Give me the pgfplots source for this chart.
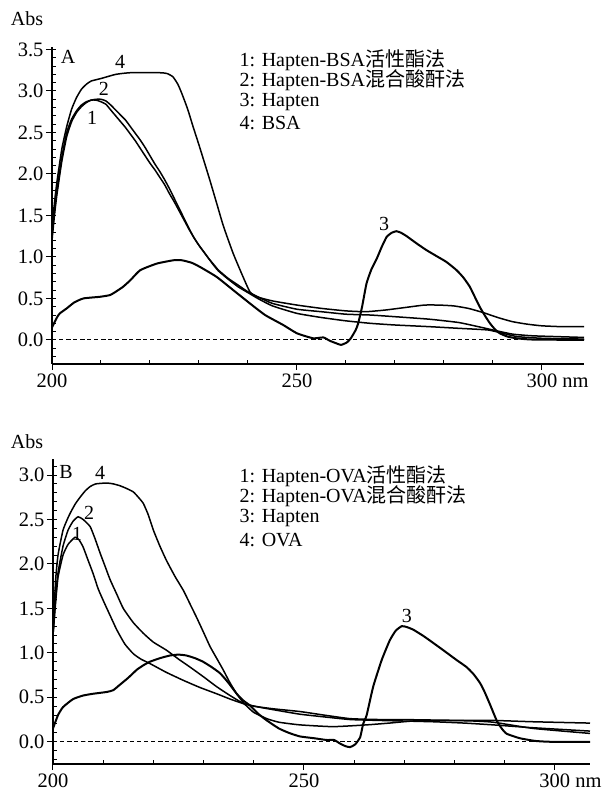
\documentclass[border=0pt]{standalone}
\usepackage{fontspec}
\setmainfont{Liberation Serif}
\newfontfamily\cjk{Noto Sans CJK SC}
\usepackage{pgfplots}
\pgfplotsset{compat=1.18}

\pgfplotsset{
  spec/.style={
    scale only axis,
    axis x line=bottom, axis y line=left,
    axis line style={-, line width=1.6pt},
    xmin=200,
    xtick={200,250,300},
    xticklabels={200,250,300\rlap{\ nm}},
    minor xtick={210,220,230,240,260,270,280,290},
    ytick={0,0.5,...,3.5},
    minor ytick={-0.2,-0.1,...,3.5},
    yticklabel style={xshift=-5pt, /pgf/number format/.cd,fixed,fixed zerofill,precision=1},
    xticklabel style={yshift=-6pt},
    /pgf/number format/assume math mode=true,
    tick align=inside,
    major tick length=6pt, minor tick length=4pt,
    every major x tick/.append style={yshift=-6pt},
    every major y tick/.append style={xshift=-6pt},
    tick style={black, line width=1pt},
    ticklabel style={font=\fontsize{20.5}{22}\selectfont},
    cycle list={{black}},
    every axis plot/.append style={line width=1.5pt, no marks, smooth, tension=0.3},
    every axis plot post/.append style={black},
    clip=false,
  },
}

\begin{document}
\begin{tikzpicture}
\useasboundingbox (0,0) rectangle (603pt,796pt);
\tikzset{lab/.style={font=\fontsize{20}{22}\selectfont}}

% ---------- panel A ----------
\begin{axis}[spec, at={(52pt,432pt)}, anchor=south west,
  width=532pt, height=317pt, xmax=308.6, ymin=-0.29, ymax=3.53]
\addplot[dashed, line width=0.9pt, dash pattern=on 4pt off 3pt, smooth=false] coordinates {(200,0) (308.6,0)};
% 1
\addplot coordinates {(200,1.2)(200.5,1.5)(201,1.75)(202,2.15)(203,2.45)(204,2.63)(205,2.74)(206,2.81)(207,2.86)(208,2.89)(209,2.89)(210,2.87)(211,2.84)(212,2.77)(213,2.70)(214,2.63)(215,2.56)(216,2.48)(217,2.40)(218,2.31)(219,2.22)(220,2.13)(221,2.05)(222,1.96)(223,1.87)(224,1.76)(225,1.66)(226,1.55)(227,1.44)(228,1.33)(229,1.23)(230,1.14)(231,1.06)(232,0.98)(233,0.90)(234,0.83)(236,0.73)(238,0.64)(240,0.57)(242,0.50)(245,0.41)(250,0.32)(255,0.27)(260,0.23)(265,0.20)(270,0.18)(277,0.16)(283,0.14)(289,0.12)(292,0.08)(295,0.04)(300,0.02)(308.6,0.01)};
% 2
\addplot coordinates {(200,1.25)(200.5,1.55)(201,1.8)(202,2.2)(203,2.5)(204,2.66)(205,2.76)(206,2.83)(207,2.87)(208,2.89)(209,2.90)(210,2.90)(211,2.88)(212,2.83)(213,2.77)(214,2.71)(215,2.65)(216,2.57)(217,2.49)(218,2.41)(219,2.32)(220,2.22)(221,2.12)(222,2.03)(223,1.93)(224,1.82)(225,1.70)(226,1.58)(227,1.46)(228,1.34)(229,1.23)(230,1.14)(231,1.06)(232,0.98)(233,0.91)(234,0.84)(236,0.74)(238,0.66)(240,0.58)(242,0.52)(245,0.44)(250,0.37)(255,0.34)(260,0.31)(265,0.30)(270,0.28)(277,0.25)(283,0.21)(287,0.16)(290,0.12)(294,0.07)(298,0.05)(303,0.04)(308.6,0.03)};
% 3
\addplot[line width=2pt] coordinates {(200,0.15)(201,0.27)(201.6,0.32)(203,0.38)(204.5,0.45)(206.4,0.50)(209.8,0.52)(211.8,0.54)(213,0.58)(214.5,0.64)(216,0.72)(218,0.84)(221.4,0.92)(224.8,0.96)(226.5,0.96)(228.5,0.93)(230.2,0.88)(233.6,0.76)(237,0.60)(240.4,0.44)(243.5,0.30)(247.2,0.18)(250,0.08)(253.3,0.02)(255.4,0.03)(256.7,-0.01)(258,-0.04)(259,-0.06)(260.2,-0.03)(261,0.02)(262,0.12)(262.5,0.2)(263.3,0.4)(264.2,0.68)(265.2,0.85)(266.3,0.98)(267.3,1.12)(268.3,1.24)(269.3,1.29)(270.3,1.31)(271.3,1.29)(272.4,1.25)(274.5,1.16)(276.5,1.08)(278.5,1.01)(280.5,0.94)(282.6,0.84)(284,0.75)(285.3,0.64)(286.3,0.52)(287.3,0.40)(288.4,0.29)(289.4,0.20)(290.4,0.13)(291.4,0.08)(293,0.04)(294.8,0.02)(298,0.005)(308.6,0.0)};
% 4
\addplot coordinates {(200,1.3)(200.5,1.65)(201,1.9)(202,2.3)(203,2.57)(204,2.78)(205,2.92)(206,3.02)(207,3.08)(208,3.12)(210,3.15)(213,3.2)(216,3.22)(222,3.22)(223.5,3.21)(224.7,3.17)(225.7,3.08)(226.5,2.97)(227.7,2.78)(228.8,2.57)(230,2.35)(231,2.16)(232.2,1.93)(233.6,1.65)(235,1.37)(237,1.04)(239,0.76)(240.4,0.58)(241.8,0.52)(245,0.47)(250,0.42)(255,0.38)(260,0.35)(264,0.34)(268,0.36)(272,0.39)(276,0.42)(279,0.42)(282,0.41)(285,0.38)(288,0.33)(291,0.27)(294,0.22)(297,0.19)(300,0.17)(304,0.16)(308.6,0.16)};
\node[lab] at (axis cs:203.3,3.41) {A};
\node[lab] at (axis cs:213.9,3.35) {4};
\node[lab] at (axis cs:210.6,3.02) {2};
\node[lab] at (axis cs:208.2,2.67) {1};
\node[lab] at (axis cs:267.8,1.40) {3};
\end{axis}

\node[lab] at (27pt,777pt) {Abs};
\node[lab, anchor=base west] at (236pt,729pt) {1: Hapten-BSA{\cjk 活性酯法}};
\node[lab, anchor=base west] at (236pt,709pt) {2: Hapten-BSA{\cjk 混合酸酐法}};
\node[lab, anchor=base west] at (236pt,689pt) {3: Hapten};
\node[lab, anchor=base west] at (236pt,666pt) {4: BSA};

% ---------- panel B ----------
\begin{axis}[spec, at={(53pt,32pt)}, anchor=south west,
  width=537pt, height=305pt, xmax=307, ymin=-0.25, ymax=3.18,
  ytick={0,0.5,...,3.0}, minor ytick={-0.2,-0.1,...,3.1}]
\addplot[dashed, line width=0.9pt, dash pattern=on 4pt off 3pt, smooth=false] coordinates {(200,0) (307,0)};
% 1
\addplot coordinates {(200,1.2)(200.5,1.55)(201,1.85)(202,2.1)(203,2.22)(204.4,2.30)(205.2,2.27)(206,2.19)(207,2.04)(208,1.89)(209,1.72)(210,1.59)(211.3,1.43)(212.7,1.26)(214.3,1.10)(216,0.99)(217.5,0.93)(219.3,0.88)(222.6,0.78)(226,0.69)(229.3,0.61)(232.6,0.54)(235.3,0.48)(237.9,0.43)(241,0.39)(245,0.35)(249.2,0.31)(254,0.28)(259.2,0.25)(265,0.24)(275.8,0.225)(282,0.21)(287.7,0.19)(295,0.16)(307,0.12)};
% 2
\addplot coordinates {(200,1.2)(200.5,1.6)(201,1.9)(202,2.2)(203,2.38)(204,2.48)(205,2.53)(206,2.5)(207.4,2.42)(208.4,2.28)(209.4,2.12)(210.4,1.97)(211.4,1.82)(212.7,1.66)(214,1.50)(216,1.34)(218,1.22)(220,1.12)(222.6,1.03)(225,0.93)(227.3,0.84)(230,0.73)(232.6,0.62)(235,0.53)(237.3,0.45)(238,0.43)(240,0.40)(244,0.37)(249.2,0.34)(254,0.30)(259.2,0.26)(265,0.25)(269,0.25)(275,0.245)(282,0.24)(287.7,0.24)(295.7,0.225)(307,0.21)};
% 3
\addplot[line width=2pt] coordinates {(200,0.15)(201,0.30)(202,0.39)(204,0.48)(206,0.52)(208,0.54)(210.7,0.56)(212,0.58)(213.3,0.64)(215,0.72)(216.7,0.81)(218,0.86)(219.3,0.90)(221.3,0.94)(223.3,0.97)(225,0.98)(226.6,0.97)(228.3,0.94)(229.9,0.90)(231.6,0.84)(233.3,0.77)(235,0.66)(236.6,0.54)(238,0.46)(239.2,0.41)(241,0.31)(242.6,0.24)(245,0.15)(247,0.10)(249.2,0.06)(252,0.04)(254.5,0.02)(256,0.02)(257.2,-0.02)(258.3,-0.05)(259.2,-0.06)(260.2,-0.03)(261.2,0.05)(261.8,0.2)(262.5,0.3)(263.8,0.62)(265.5,0.92)(267.1,1.14)(268.3,1.25)(269.5,1.30)(270.5,1.29)(271.8,1.26)(273.8,1.19)(275.8,1.11)(278,1.02)(280.4,0.92)(282.4,0.84)(283.8,0.76)(285.1,0.66)(286,0.56)(287,0.43)(288.4,0.24)(289.4,0.15)(290.4,0.09)(293,0.04)(296,0.01)(299,0.0)(307,0.0)};
% 4
\addplot coordinates {(200,1.2)(200.5,1.8)(201,2.1)(202,2.38)(203,2.52)(203.7,2.6)(204.5,2.68)(205.4,2.75)(206.4,2.82)(207.4,2.87)(208.5,2.90)(210.7,2.91)(212,2.90)(213.3,2.88)(214.6,2.85)(216,2.81)(217,2.75)(218,2.68)(219,2.55)(220,2.38)(221.3,2.2)(222.6,2.04)(224.3,1.86)(226,1.70)(227.3,1.55)(228.6,1.40)(230,1.23)(231.3,1.07)(232.6,0.94)(233.9,0.81)(235.2,0.67)(236.6,0.54)(237.9,0.44)(239,0.38)(240,0.33)(242.6,0.26)(245,0.22)(249.2,0.19)(255.8,0.17)(262.5,0.19)(267,0.21)(272.5,0.236)(282.4,0.236)(287.7,0.22)(295.7,0.15)(307,0.094)};
\node[lab] at (axis cs:202.6,3.03) {B};
\node[lab] at (axis cs:209.4,3.02) {4};
\node[lab] at (axis cs:207.2,2.57) {2};
\node[lab] at (axis cs:204.8,2.34) {1};
\node[lab] at (axis cs:270.5,1.42) {3};
\end{axis}

\node[lab] at (27pt,354pt) {Abs};
\node[lab, anchor=base west] at (236pt,313pt) {1: Hapten-OVA{\cjk 活性酯法}};
\node[lab, anchor=base west] at (236pt,293pt) {2: Hapten-OVA{\cjk 混合酸酐法}};
\node[lab, anchor=base west] at (236pt,273pt) {3: Hapten};
\node[lab, anchor=base west] at (236pt,249pt) {4: OVA};
\end{tikzpicture}
\end{document}
